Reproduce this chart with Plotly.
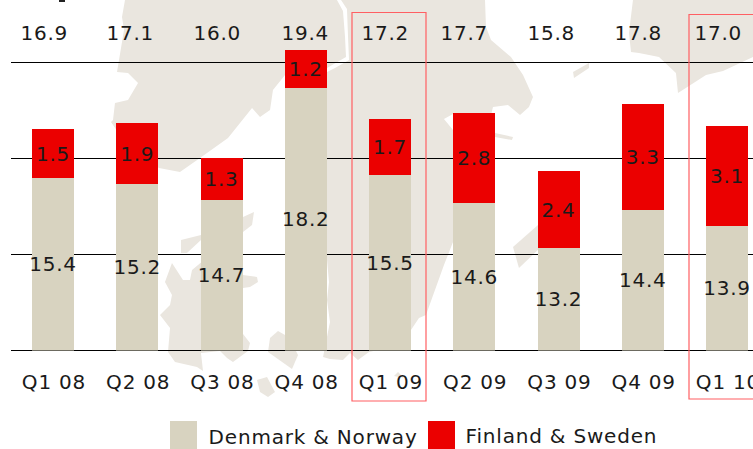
import plotly.graph_objects as go

W, H = 753, 449

# ---- data -----------------------------------------------------------------
quarters = ["Q1 08", "Q2 08", "Q3 08", "Q4 08", "Q1 09", "Q2 09", "Q3 09", "Q4 09", "Q1 10"]
# values printed on the chart
totals_printed = ["16.9", "17.1", "16.0", "19.4", "17.2", "17.7", "15.8", "17.8", "17.0"]
denmark_norway_printed = ["15.4", "15.2", "14.7", "18.2", "15.5", "14.6", "13.2", "14.4", "13.9"]
finland_sweden_printed = ["1.5", "1.9", "1.3", "1.2", "1.7", "2.8", "2.4", "3.3", "3.1"]
# bar heights as drawn in the picture, read against the gridlines (the source
# is not drawn to the scale of its printed labels); gridline step = 5
denmark_norway_drawn = [8.98, 8.67, 7.83, 13.67, 9.14, 7.68, 5.33, 7.31, 6.48]
finland_sweden_drawn = [2.55, 3.18, 2.19, 1.98, 2.92, 4.69, 4.01, 5.52, 5.21]

# ---- style ----------------------------------------------------------------
FONT = "DejaVu Sans"
INK = "#1a1a1a"
BEIGE = "#D8D3C0"
RED = "#EB0000"
LAND = "#EAE6DF"
FRAME = "#FF5F63"
FS = 20

ZERO_PX = 350.5
STEP_PX = 96.0
PX_PER_UNIT = STEP_PX / 5
SPACING = 84.25
FIRST_X = 53.0
# the totals row sits a little left of the bars in the source
total_label_shift = [-9, -7, -4, 0, -5, -10, -7, -4, -9]


def px(x):
    return x / W


def py(y):
    return 1 - y / H


def poly(points):
    return "M " + " L ".join(f"{px(x):.4f},{py(y):.4f}" for x, y in points) + " Z"


# decorative map behind the chart (pixel outlines)
map_outlines = [
    # west land
    [(125, 0), (122, 17), (124, 30), (121, 48), (117, 72), (128, 73), (138, 83), (128, 100), (115, 103),
     (113, 120), (111, 122), (130, 150), (159, 168), (180, 172), (200, 158), (228, 138), (252, 108),
     (260, 117), (270, 110), (273, 90), (285, 75), (327, 68), (346, 57), (345, 37), (343, 11), (337, 0)],
    # central land
    [(341, 0), (347, 9), (348, 37), (349, 60), (335, 68), (327, 72), (310, 110), (327, 260), (329, 282),
     (327, 300), (330, 322), (323, 357), (330, 359), (343, 360), (350, 353), (358, 360), (369, 352),
     (400, 345), (411, 330), (419, 318), (426, 315), (444, 265), (453, 242), (453, 130), (444, 119),
     (453, 114), (491, 115), (493, 107), (508, 105), (520, 115), (529, 107), (533, 97), (523, 75),
     (511, 57), (491, 40), (486, 27), (485, 0)],
    # east land
    [(633, 0), (629, 33), (631, 52), (639, 53), (659, 57), (676, 73), (678, 93), (706, 75), (723, 71),
     (753, 57), (753, 0)],
    # islands
    [(573, 72), (589, 63), (589, 68), (574, 78)],
    [(495, 133), (513, 137), (512, 140), (495, 137)],
    [(513, 247), (538, 225), (540, 248), (519, 268)],
    [(238, 235), (243, 217), (254, 212), (252, 225), (243, 232)],
    [(181, 240), (201, 235), (201, 240), (187, 253), (181, 253)],
    # peninsula
    [(172, 263), (183, 280), (190, 280), (192, 270), (210, 255), (243, 275), (257, 277), (258, 282),
     (250, 287), (243, 288), (240, 330), (250, 343), (248, 351), (233, 362), (227, 358), (220, 351),
     (201, 353), (203, 371), (197, 367), (175, 362), (168, 352), (170, 328), (160, 315), (170, 305),
     (172, 295), (165, 282)],
    [(278, 331), (270, 338), (268, 352), (292, 369), (298, 355), (293, 345), (285, 335)],
    [(257, 380), (267, 377), (275, 392), (268, 397), (260, 392)],
    [(398, 372), (404, 378), (394, 376)],
]

shapes = [
    dict(type="path", path=poly(p), xref="paper", yref="paper", fillcolor=LAND,
         line=dict(width=0), layer="below")
    for p in map_outlines
]

# highlight frames
for x0, x1, y0, y1 in [(352, 426, 12.5, 401), (689, 760, 14.5, 399)]:
    shapes.append(dict(type="rect", xref="paper", yref="paper", x0=px(x0), x1=px(x1), y0=py(y1), y1=py(y0),
                       line=dict(color=FRAME, width=1.2), fillcolor="rgba(0,0,0,0)", layer="above"))

# legend swatches
for x0, x1, colour in [(170, 197, BEIGE), (428, 455, RED)]:
    shapes.append(dict(type="rect", xref="paper", yref="paper", x0=px(x0), x1=px(x1), y0=py(449), y1=py(421),
                       line=dict(width=0), fillcolor=colour, layer="above"))

# remnant of cropped text at the very top edge
shapes.append(dict(type="rect", xref="paper", yref="paper", x0=px(59), x1=px(65), y0=py(2), y1=py(0),
                   line=dict(width=0), fillcolor="#222222", layer="above"))

annotations = [
    dict(x=q, y=py(33), xref="x", yref="paper", xshift=s, text=t, showarrow=False, xanchor="center",
         yanchor="middle", font=dict(family=FONT, size=FS, color=INK))
    for q, t, s in zip(quarters, totals_printed, total_label_shift)
]
annotations += [
    dict(x=px(212.5), y=py(437), xref="paper", yref="paper", text="Denmark &amp; Norway", showarrow=False,
         xanchor="left", yanchor="middle", font=dict(family=FONT, size=FS, color=INK)),
    dict(x=px(470), y=py(436), xref="paper", yref="paper", text="Finland &amp; Sweden", showarrow=False,
         xanchor="left", yanchor="middle", font=dict(family=FONT, size=FS, color=INK)),
]

fig = go.Figure()
for name, drawn, printed, colour in [
    ("Denmark & Norway", denmark_norway_drawn, denmark_norway_printed, BEIGE),
    ("Finland & Sweden", finland_sweden_drawn, finland_sweden_printed, RED),
]:
    fig.add_trace(go.Bar(
        x=quarters, y=drawn, name=name, marker=dict(color=colour, line=dict(width=0)),
        text=printed, textposition="inside", insidetextanchor="middle", textangle=0,
        constraintext="none", insidetextfont=dict(family=FONT, size=FS, color=INK),
        showlegend=False,
    ))

fig.update_layout(
    width=W, height=H, margin=dict(l=0, r=0, t=0, b=0, autoexpand=False), autosize=False,
    barmode="stack", bargap=1 - 42 / SPACING,
    paper_bgcolor="white", plot_bgcolor="rgba(0,0,0,0)",
    shapes=shapes, annotations=annotations,
    xaxis=dict(
        domain=[11 / W, 1], type="category", categoryorder="array", categoryarray=quarters,
        range=[(11 - FIRST_X) / SPACING, (W - FIRST_X) / SPACING],
        showgrid=False, zeroline=False, showline=False, automargin=False,
        ticks="outside", ticklen=13, tickcolor="rgba(0,0,0,0)", ticklabeloverflow="allow",
        ticklabelshift=1,
        tickfont=dict(family=FONT, size=FS, color=INK),
    ),
    yaxis=dict(
        domain=[1 - ZERO_PX / H, 1], range=[0, ZERO_PX / PX_PER_UNIT],
        tickmode="array", tickvals=[0, 5, 10, 15], showticklabels=False, ticks="",
        showgrid=True, gridcolor="#000000", gridwidth=1,
        zeroline=True, zerolinecolor="#000000", zerolinewidth=1,
    ),
)

page_fix = """
document.body.style.margin = '0';
document.documentElement.style.overflow = 'hidden';
var s = document.createElement('style');
s.textContent = '.main-svg text { letter-spacing: 0.8px; }';
document.head.appendChild(s);
"""
fig.write_html("out.html", config=dict(displayModeBar=False), post_script=page_fix)
